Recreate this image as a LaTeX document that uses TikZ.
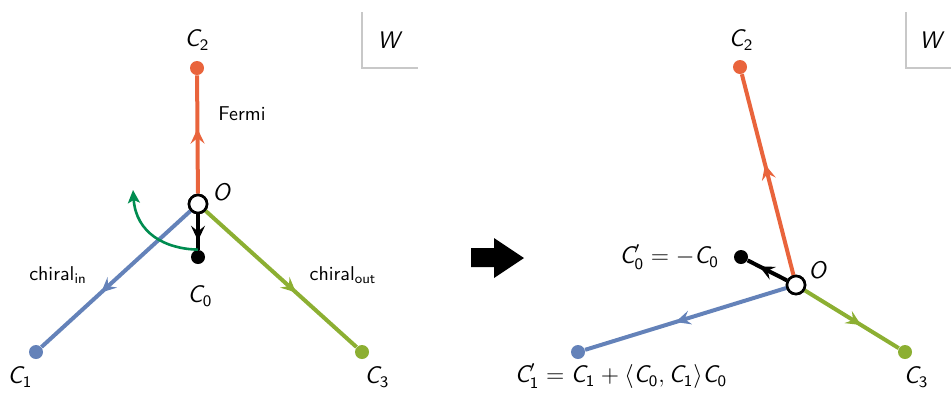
\documentclass[tikz,border=0pt]{standalone}
\usetikzlibrary{arrows.meta,decorations.markings}
\definecolor{cor}{RGB}{233,100,60}
\definecolor{cbl}{RGB}{100,130,185}
\definecolor{cgr}{RGB}{140,175,50}
\definecolor{cdg}{RGB}{0,140,80}
\definecolor{cgy}{RGB}{200,200,200}
\newcommand{\sv}[1]{\textsf{\itshape #1}}
\newcommand{\sd}[1]{\mathsf{#1}}
\begin{document}
\begin{tikzpicture}[x=0.5pt,y=-0.5pt,font=\sffamily,
  dot/.style={circle,inner sep=0pt,minimum size=7pt},
  onode/.style={circle,draw=black,fill=white,line width=1.3pt,inner sep=0pt,minimum size=9pt},
  edge/.style={line width=2pt},
  midarrow/.style={postaction={decorate},decoration={markings,mark=at position #1 with {\arrow{Stealth[length=7.5pt,width=7pt,inset=2.8pt]}}}},
  lab/.style={font=\sffamily\large},
  tlab/.style={font=\sffamily},
  wbox/.style={draw=cgy,line width=0.6pt}]
\useasboundingbox (0,0) rectangle (951,392);
% ---------- left panel
\node[dot,fill=cor] (C2) at (197,68) {};
\node[dot,fill=black] (C0) at (198,257) {};
\node[dot,fill=cbl] (C1) at (36,352) {};
\node[dot,fill=cgr] (C3) at (362,352) {};
\node[onode] (O) at (198,204) {};
\draw[edge,cor,midarrow=0.55] (O) -- (C2);
\draw[edge,cbl,midarrow=0.6] (O) -- (C1);
\draw[edge,cgr,midarrow=0.6] (O) -- (C3);
\draw[edge,black,midarrow=0.75] (O) -- (C0);
\coordinate (arcend) at (133,190);
\draw[line width=1.3pt,cdg,-{Stealth[length=6.5pt,width=6pt,inset=1.5pt]}] (C0.north) .. controls (165,249) and (136,233) .. (arcend);
\node[onode] at (O) {};
\node[lab] (lC2) at (197,40) {$\sv{C}_{\sd{2}}$};
\node[lab] (lO) at (222,192) {\sv{O}};
\node[lab] (lC0) at (200,296) {$\sv{C}_{\sd{0}}$};
\node[lab] (lC1) at (20,377) {$\sv{C}_{\sd{1}}$};
\node[lab] (lC3) at (377,377) {$\sv{C}_{\sd{3}}$};
\node[tlab] (fermi) at (242,114) {Fermi};
\node[tlab] (chin) at (58,275) {chiral$_{\sd{in}}$};
\node[tlab] (chout) at (343,275) {chiral$_{\sd{out}}$};
\coordinate (w1a) at (362,12); \coordinate (w1b) at (362,68); \coordinate (w1c) at (418,68);
\draw[wbox] (w1a) -- (w1b) -- (w1c);
\node[lab] (W1) at (390,40) {\sv{W}};
% ---------- big arrow
\fill[black] (471,248) -- (494,248) -- (494,238) -- (524,258) -- (494,278) -- (494,267) -- (471,267) -- cycle;
% ---------- right panel
\node[dot,fill=cor] (D2) at (740,67) {};
\node[dot,fill=black] (D0) at (741,257) {};
\node[dot,fill=cbl] (D1) at (578,352) {};
\node[dot,fill=cgr] (D3) at (905,352) {};
\node[onode] (P) at (796,285) {};
\draw[edge,cor,midarrow=0.55] (P) -- (D2);
\draw[edge,cbl,midarrow=0.55] (P) -- (D1);
\draw[edge,cgr,midarrow=0.6] (P) -- (D3);
\draw[edge,black,midarrow=0.7] (P) -- (D0);
\node[onode] at (P) {};
\node[lab] (lD2) at (741,40) {$\sv{C}_{\sd{2}}$};
\node[lab] (lP) at (818,270) {\sv{O}};
\node[lab,anchor=east] (lD0) at (726,257) {$\sv{C}'_{\sd{0}} = -\sv{C}_{\sd{0}}$};
\node[lab] (lD1) at (621,376) {$\sv{C}'_{\sd{1}} = \sv{C}_{\sd{1}} + \langle \sv{C}_{\sd{0}}, \sv{C}_{\sd{1}}\rangle \sv{C}_{\sd{0}}$};
\node[lab] (lD3) at (916,377) {$\sv{C}_{\sd{3}}$};
\coordinate (w2a) at (906,12); \coordinate (w2b) at (906,68); \coordinate (w2c) at (951,68);
\draw[wbox] (w2a) -- (w2b) -- (w2c);
\node[lab] (W2) at (932,40) {\sv{W}};
\end{tikzpicture}
\end{document}
